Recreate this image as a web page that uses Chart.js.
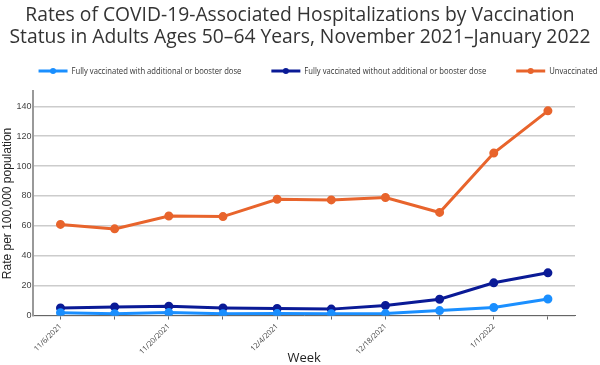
<!DOCTYPE html>
<html>
<head>
<meta charset="utf-8">
<script src="https://cdn.jsdelivr.net/npm/chart.js@4/dist/chart.umd.min.js"></script>
<style>
  body { margin: 0; background: #fff; }
  #wrap { width: 600px; height: 365px; }
</style>
</head>
<body>
<div id="wrap"><canvas id="myChart" width="600" height="365"></canvas></div>
<script>
// weeks
const weeks = ['11/6/2021', '11/13/2021', '11/20/2021', '11/27/2021', '12/4/2021',
    '12/11/2021', '12/18/2021', '12/25/2021', '1/1/2022', '1/8/2022'];

// rates per 100,000
const booster = [1.9, 1.2, 2.0, 1.2, 1.3, 1.2, 1.3, 3.3, 5.4, 11.1];
const noBooster = [5.1, 5.8, 6.2, 5.1, 4.7, 4.3, 6.7, 10.9, 21.9, 28.6];
const unvaccinated = [61.0, 58.0, 66.6, 66.2, 77.8, 77.4, 79.0, 69.0, 108.7, 137.0];

const yTicks = [0, 20, 40, 60, 80, 100, 120, 140];

const colBooster = '#1a8fff';
const colNoBooster = '#0a1a96';
const colUnvax = '#e8642c';

function makeSet(label, values, color) {
    return {
        label: label,
        data: values,
        borderColor: color,
        backgroundColor: color,
        borderWidth: 3,
        pointRadius: 3,
        pointHoverRadius: 3,
        tension: 0
    };
}

// legend drawn by hand so the three items can spread over the full width
const lineLegend = {
    id: 'lineLegend',
    afterDraw: function(chart) {
        const ctx = chart.ctx;
        const squeeze = 0.85;
        const gap = 30;
        const iconW = 29;
        const y = 71;
        ctx.save();
        ctx.font = '9px "Open Sans"';
        const widths = chart.data.datasets.map(function(ds) {
            return iconW + 4 + ctx.measureText(ds.label).width * squeeze;
        });
        let total = widths.reduce(function(a, b) { return a + b; }, 0) + gap * (widths.length - 1);
        let x = (chart.width - total) / 2 + 18;
        chart.data.datasets.forEach(function(ds, i) {
            ctx.strokeStyle = ds.borderColor;
            ctx.fillStyle = ds.borderColor;
            ctx.lineWidth = 3;
            ctx.beginPath();
            ctx.moveTo(x, y);
            ctx.lineTo(x + iconW, y);
            ctx.stroke();
            ctx.beginPath();
            ctx.arc(x + iconW / 2, y, 3, 0, Math.PI * 2);
            ctx.fill();
            ctx.fillStyle = '#333';
            ctx.textBaseline = 'middle';
            ctx.save();
            ctx.translate(x + iconW + 4, y);
            ctx.scale(squeeze, 1);
            ctx.fillText(ds.label, 0, 0);
            ctx.restore();
            x += widths[i] + gap;
        });
        ctx.restore();
    }
};

const data = {
    labels: weeks,
    datasets: [
        makeSet('Fully vaccinated with additional or booster dose', booster, colBooster),
        makeSet('Fully vaccinated without additional or booster dose', noBooster, colNoBooster),
        makeSet('Unvaccinated', unvaccinated, colUnvax)
    ]
};

const config = {
    type: 'line',
    data: data,
    plugins: [lineLegend],
    options: {
        responsive: false,
        animation: false,
        layout: { padding: { left: 0, right: 0, top: 0, bottom: 0 } },
        plugins: {
            title: {
                display: true,
                text: ['Rates of COVID-19-Associated Hospitalizations by Vaccination',
                    'Status in Adults Ages 50\u201364 Years, November 2021\u2013January 2022'],
                color: '#333',
                font: { family: 'Open Sans', size: 19.3, weight: 'normal', lineHeight: 1.15 },
                padding: { top: 4, bottom: 43 }
            },
            legend: { display: false },
            tooltip: { enabled: false }
        },
        scales: {
            x: {
                offset: true,
                afterFit: function(scale) { scale.height -= 8; },
                grid: {
                    display: true,
                    drawOnChartArea: false,
                    drawTicks: true,
                    tickLength: 4,
                    color: '#666',
                    offset: false
                },
                border: { color: '#666', width: 1 },
                ticks: {
                    autoSkip: false,
                    maxRotation: 45,
                    minRotation: 45,
                    padding: 3,
                    color: '#444',
                    font: { family: 'Open Sans', size: 7.5, lineHeight: 1 },
                    callback: function(val, i) {
                        return i % 2 === 0 ? weeks[i] : '';
                    }
                },
                title: {
                    display: true,
                    text: 'Week',
                    color: '#222',
                    font: { family: 'Open Sans', size: 13, lineHeight: 1 },
                    padding: { top: 1, bottom: 0 }
                }
            },
            y: {
                min: 0,
                max: 150,
                afterBuildTicks: function(axis) {
                    axis.ticks = yTicks.map(function(v) { return { value: v }; });
                },
                grid: {
                    color: '#ccc',
                    lineWidth: 1.5,
                    drawTicks: false
                },
                border: { color: '#999', width: 2 },
                ticks: {
                    color: '#444',
                    padding: 2,
                    font: { family: 'Liberation Sans', size: 9 }
                },
                title: {
                    display: true,
                    text: 'Rate per 100,000 population',
                    color: '#222',
                    font: { family: 'Liberation Sans', size: 12 },
                    padding: { top: 0, bottom: 0 }
                }
            },
            // empty right-hand margin
            spacer: {
                type: 'linear',
                position: 'right',
                grid: { display: false },
                border: { display: false },
                ticks: { display: false },
                afterFit: function(scale) { scale.width = 25; }
            }
        }
    }
};

const myChart = new Chart(document.getElementById('myChart'), config);
</script>
</body>
</html>
